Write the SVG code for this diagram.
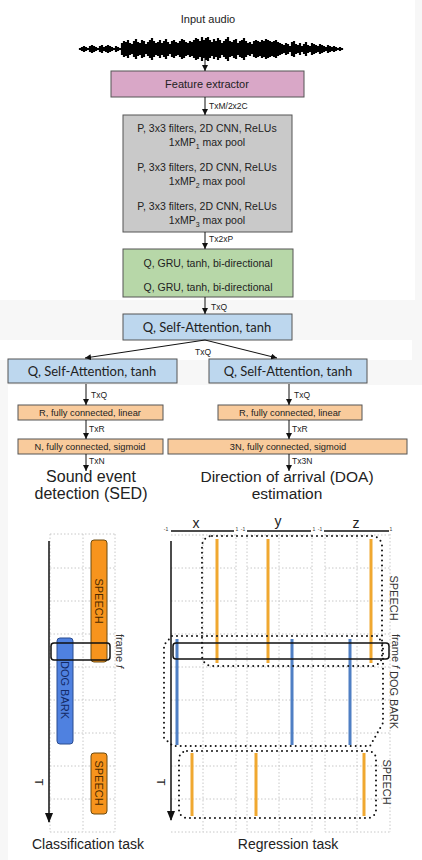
<svg xmlns="http://www.w3.org/2000/svg" width="422" height="860" viewBox="0 0 422 860">
<defs>
<marker id="ah" markerUnits="userSpaceOnUse" markerWidth="6" markerHeight="6" refX="6" refY="3" orient="auto"><path d="M0,0 L6,3 L0,6 z" fill="#111"/></marker>
<marker id="ahb" markerUnits="userSpaceOnUse" markerWidth="10" markerHeight="10" refX="9" refY="4" orient="auto"><path d="M0,0 L10,4 L0,8 z" fill="#111"/></marker>
</defs>
<style>
.t{font-family:"Liberation Sans",Arial,sans-serif;fill:#222}
.c{text-anchor:middle}
.lab{font-family:"Liberation Sans",Arial,sans-serif;font-size:8.5px;fill:#222}
.box{stroke:#555;stroke-width:1}
.att{fill:#bdd7ee;stroke:#555;stroke-width:1}
.at{font-family:Lato,"Open Sans",sans-serif;font-size:13px;fill:#222;text-anchor:middle}
.fc{fill:#f9cb9c;stroke:#555;stroke-width:1}
.fct{font-family:"Liberation Sans",Arial,sans-serif;font-size:9.3px;fill:#222;text-anchor:middle}
.arr{stroke:#111;stroke-width:1;fill:none;marker-end:url(#ah)}
.grid{stroke:#c8c8c8;stroke-width:1;stroke-dasharray:1.5 2;fill:none}
.dot{stroke:#111;stroke-width:2;stroke-dasharray:0 5;stroke-linecap:round;fill:none}
.og{stroke:#f0a830;stroke-width:3}
.bl{stroke:#4f7fc4;stroke-width:3}
.rot{font-family:"Liberation Sans",Arial,sans-serif;font-size:11px;text-anchor:middle;dominant-baseline:central}
.tick{font-family:"Liberation Sans",Arial,sans-serif;font-size:5px;fill:#333;text-anchor:middle}
</style>
<rect width="422" height="860" fill="#f7f7f7"/>
<rect x="0" y="0" width="415" height="300" fill="#ffffff"/>
<rect x="0" y="340" width="412" height="20" fill="#ffffff"/>
<rect x="8" y="385" width="414" height="475" fill="#ffffff"/>

<g id="input-audio">
<text class="t c" x="208" y="23" font-size="11">Input audio</text>
<path fill="none" stroke="#000" stroke-width="2.2" d="M80 49H343M80 48v2M82 47v4M84 46v6M86 47v4M88 48v2M90 46v6M92 45v8M94 46v6M96 47v4M98 48v2M100 46v6M102 45v8M104 47v4M106 46v6M108 45v8M110 46v6M112 47v4M114 48v2M116 46v6M118 47v4M120 48v2M122 43v12M124 41v16M126 42v14M128 40v18M130 43v12M132 44v10M134 41v16M136 39v20M138 42v14M140 43v12M142 40v18M144 41v16M146 44v10M148 42v14M150 40v18M152 38v22M154 41v16M156 43v12M158 42v14M160 40v18M162 43v12M164 41v16M166 39v20M168 42v14M170 44v10M172 41v16M174 40v18M176 42v14M178 43v12M180 41v16M182 39v20M184 40v18M186 42v14M188 43v12M190 41v16M192 42v14M194 40v18M196 38v22M198 39v20M200 41v16M202 37v24M204 40v18M206 38v22M208 37v24M210 40v18M212 42v14M214 39v20M216 41v16M218 38v22M220 40v18M222 43v12M224 41v16M226 39v20M228 37v24M230 41v16M232 42v14M234 40v18M236 39v20M238 43v12M240 41v16M242 40v18M244 38v22M246 41v16M248 43v12M250 42v14M252 44v10M254 41v16M256 40v18M258 41v16M260 42v14M262 40v18M264 41v16M266 39v20M268 40v18M270 41v16M272 42v14M274 41v16M276 40v18M278 42v14M280 43v12M282 44v10M284 45v8M286 43v12M288 44v10M290 46v6M292 42v14M294 41v16M296 44v10M298 45v8M300 43v12M302 46v6M304 44v10M306 42v14M308 45v8M310 46v6M312 43v12M314 44v10M316 45v8M318 46v6M320 44v10M322 45v8M324 46v6M326 47v4M328 45v8M330 46v6M332 47v4M334 46v6M336 47v4M338 48v2M340 47v4M342 48v2"/>
</g>

<g id="feature-extractor">
<rect class="box" x="111" y="71" width="193" height="26" fill="#d9a7c7"/>
<text class="t c" x="207" y="88" font-size="11">Feature extractor</text>
</g>

<g id="cnn">
<rect class="box" x="123" y="115" width="169" height="117" fill="#c9c9c9"/>
<text class="t c" font-size="10.5" x="207" y="132">P, 3x3 filters, 2D CNN, ReLUs</text>
<text class="t c" font-size="10.5" x="207" y="146">1xMP<tspan font-size="7" dy="3">1</tspan><tspan dy="-3"> max pool</tspan></text>
<text class="t c" font-size="10.5" x="207" y="171">P, 3x3 filters, 2D CNN, ReLUs</text>
<text class="t c" font-size="10.5" x="207" y="185">1xMP<tspan font-size="7" dy="3">2</tspan><tspan dy="-3"> max pool</tspan></text>
<text class="t c" font-size="10.5" x="207" y="210">P, 3x3 filters, 2D CNN, ReLUs</text>
<text class="t c" font-size="10.5" x="207" y="224">1xMP<tspan font-size="7" dy="3">3</tspan><tspan dy="-3"> max pool</tspan></text>
</g>

<g id="gru">
<rect class="box" x="123" y="249" width="170" height="48" fill="#b7d7a8"/>
<text class="t c" font-size="10.5" x="208" y="267">Q, GRU, tanh, bi-directional</text>
<text class="t c" font-size="10.5" x="208" y="291">Q, GRU, tanh, bi-directional</text>
</g>

<g id="attention">
<rect class="att" x="123" y="314" width="169" height="26"/>
<text class="at" x="207" y="332">Q, Self-Attention, tanh</text>
</g>

<g id="attention-sed">
<rect class="att" x="8" y="359" width="169" height="24"/>
<text class="at" x="92" y="376">Q, Self-Attention, tanh</text>
</g>

<g id="attention-doa">
<rect class="att" x="209" y="359" width="158" height="24"/>
<text class="at" x="288" y="376">Q, Self-Attention, tanh</text>
</g>

<g id="fc-r-sed">
<rect class="fc" x="18" y="405" width="145" height="15"/>
<text class="fct" x="90" y="416">R, fully connected, linear</text>
</g>
<g id="fc-r-doa">
<rect class="fc" x="218" y="405" width="144" height="15"/>
<text class="fct" x="290" y="416">R, fully connected, linear</text>
</g>
<g id="fc-n-sed">
<rect class="fc" x="18" y="439" width="145" height="15"/>
<text class="fct" x="90" y="450">N, fully connected, sigmoid</text>
</g>
<g id="fc-3n-doa">
<rect class="fc" x="168" y="439" width="239" height="15"/>
<text class="fct" x="288" y="450">3N, fully connected, sigmoid</text>
</g>

<g id="sed-output">
<text class="t c" font-size="16" x="91" y="482">Sound event</text>
<text class="t c" font-size="16" x="91" y="499">detection (SED)</text>
</g>
<g id="doa-output">
<text class="t c" font-size="15.5" x="287" y="482">Direction of arrival (DOA)</text>
<text class="t c" font-size="15.5" x="287" y="499">estimation</text>
</g>

<g id="connectors">
<line class="arr" x1="205" y1="57" x2="205" y2="71"/>
<line class="arr" x1="205" y1="97" x2="205" y2="115"/>
<text class="lab" x="209" y="109">TxM/2x2C</text>
<line class="arr" x1="205" y1="232" x2="205" y2="249"/>
<text class="lab" x="209" y="242">Tx2xP</text>
<line class="arr" x1="205" y1="297" x2="205" y2="314"/>
<text class="lab" x="211" y="310">TxQ</text>
<line class="arr" x1="205" y1="340" x2="85" y2="358" stroke="#444"/>
<line class="arr" x1="205" y1="340" x2="277" y2="358" stroke="#444"/>
<text class="lab" x="203" y="355" text-anchor="middle">TxQ</text>
<line class="arr" x1="86" y1="384" x2="86" y2="405"/>
<text class="lab" x="91" y="398">TxQ</text>
<line class="arr" x1="289" y1="384" x2="289" y2="405"/>
<text class="lab" x="294" y="398">TxQ</text>
<line class="arr" x1="86" y1="420" x2="86" y2="439"/>
<text class="lab" x="89" y="432">TxR</text>
<line class="arr" x1="289" y1="420" x2="289" y2="439"/>
<text class="lab" x="292" y="432">TxR</text>
<line class="arr" x1="86" y1="454" x2="86" y2="471"/>
<text class="lab" x="89" y="464">TxN</text>
<line class="arr" x1="289" y1="454" x2="289" y2="471"/>
<text class="lab" x="292" y="464">Tx3N</text>
</g>

<g id="classification-task">
<path class="grid" d="M50 534V832M83 534V832M115 534V832M50 534H115M50 568H115M50 601H115M50 634H115M50 667H115M50 700H115M50 733H115M50 766H115M50 799H115M50 832H115"/>
<line x1="49" y1="541" x2="49" y2="822" stroke="#111" stroke-width="1.5" marker-end="url(#ahb)"/>
<text class="rot" fill="#222" transform="translate(39 782) rotate(90)">T</text>
<rect x="91" y="540" width="16" height="122" rx="3" fill="#f7941d" stroke="#6b4a10" stroke-width="1"/>
<text class="rot" fill="#4a2a00" transform="translate(99 601) rotate(90)">SPEECH</text>
<rect x="57" y="638" width="16" height="106" rx="3" fill="#4f81e0" stroke="#2b4c90" stroke-width="1"/>
<text class="rot" fill="#132a66" font-size="10.5" transform="translate(65 690) rotate(90)">DOG BARK</text>
<rect x="91" y="753" width="16" height="61" rx="3" fill="#f7941d" stroke="#6b4a10" stroke-width="1"/>
<text class="rot" fill="#4a2a00" transform="translate(99 783) rotate(90)">SPEECH</text>
<rect x="51" y="643" width="59" height="17" rx="3" fill="none" stroke="#111" stroke-width="1.5"/>
<text class="rot" fill="#333" font-size="9.5" transform="translate(120 651) rotate(90)">frame <tspan font-style="italic">f</tspan></text>
<text class="t c" font-size="14" x="88" y="849">Classification task</text>
</g>

<g id="regression-task">
<path class="grid" d="M203 534V832M236 534V832M247 534V832M279 534V832M312 534V832M325 534V832M357 534V832M390 534V832M171 535H236M247 535H312M325 535H390M171 568H236M247 568H312M325 568H390M171 601H236M247 601H312M325 601H390M171 634H236M247 634H312M325 634H390M171 667H236M247 667H312M325 667H390M171 700H236M247 700H312M325 700H390M171 733H236M247 733H312M325 733H390M171 766H236M247 766H312M325 766H390M171 799H236M247 799H312M325 799H390M171 832H236M247 832H312M325 832H390"/>
<text class="t c" font-size="14" x="196" y="528">x</text>
<text class="t c" font-size="14" x="278" y="526">y</text>
<text class="t c" font-size="14" x="356" y="528">z</text>
<path d="M171 531H234M247 531H311M324 531H389" stroke="#111" stroke-width="1.5"/>
<text class="tick" x="166" y="531">-1</text><text class="tick" x="237" y="531">1</text>
<text class="tick" x="243" y="531">-1</text><text class="tick" x="314" y="531">1</text>
<text class="tick" x="320" y="531">-1</text><text class="tick" x="391" y="531">1</text>
<line x1="171" y1="541" x2="171" y2="820" stroke="#111" stroke-width="1.5" marker-end="url(#ahb)"/>
<text class="rot" fill="#222" transform="translate(161 782) rotate(90)">T</text>
<path class="og" d="M217 539V663M268 539V663M371 539V663"/>
<path class="bl" d="M177 639V745M292 639V745M350 639V745"/>
<path class="og" d="M192 753V816M256 753V816M364 753V816"/>
<rect x="173" y="643" width="216" height="16" rx="3" fill="none" stroke="#111" stroke-width="1.5"/>
<rect class="dot" x="202" y="536" width="180" height="130" rx="10"/>
<path class="dot" d="M172 636H378L383 645V723L370 746H173L164 738V645Z"/>
<rect class="dot" x="179" y="751" width="197" height="67" rx="8"/>
<text class="rot" fill="#333" transform="translate(394 598) rotate(90)">SPEECH</text>
<text class="rot" fill="#333" font-size="9.5" transform="translate(396 651) rotate(90)">frame <tspan font-style="italic">f</tspan></text>
<text class="rot" fill="#333" font-size="10.5" transform="translate(394 700) rotate(90)">DOG BARK</text>
<text class="rot" fill="#333" transform="translate(387 782) rotate(90)">SPEECH</text>
<text class="t c" font-size="14" x="288" y="849">Regression task</text>
</g>
</svg>
